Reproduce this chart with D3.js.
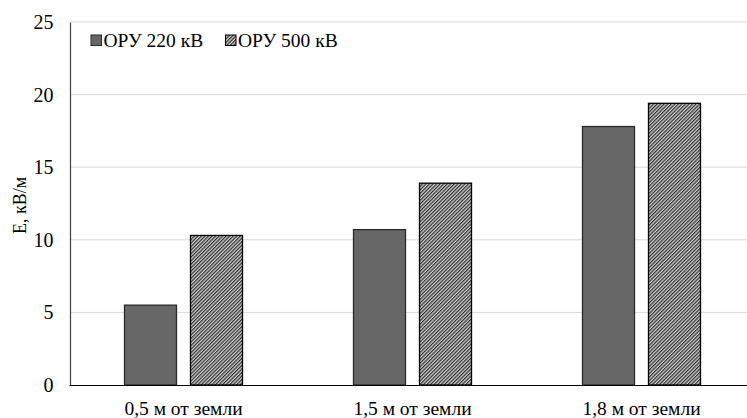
<!DOCTYPE html>
<html>
<head>
<meta charset="utf-8">
<script src="https://cdn.jsdelivr.net/npm/d3@7"></script>
<style>
  body { margin: 0; background: #fff; }
</style>
</head>
<body>
<svg id="chart" width="747" height="418"></svg>
<script>
const categories = ["0,5 м от земли", "1,5 м от земли", "1,8 м от земли"];
const seriesNames = ["ОРУ 220 кВ", "ОРУ 500 кВ"];
const ory220 = [5.5, 10.7, 17.8];
const ory500 = [10.3, 13.9, 19.4];
const yTicks = [0, 5, 10, 15, 20, 25];

const rows = categories.map((c, i) => ({ cat: c, vals: [ory220[i], ory500[i]] }));

const serif = "Liberation Serif, DejaVu Serif, serif";
const svg = d3.select("#chart");
const plotTop = 22, plotBottom = 385, plotLeft = 70;

// hatch pattern for the 500 kV series
const defs = svg.append("defs");
const pat = defs.append("pattern")
  .attr("id", "hatch")
  .attr("patternUnits", "userSpaceOnUse")
  .attr("width", 2.5)
  .attr("height", 2.5)
  .attr("patternTransform", "rotate(45)");
pat.append("rect").attr("width", 2.5).attr("height", 2.5).attr("fill", "#d0d0d0");
pat.append("rect")
  .attr("x", 0).attr("y", 0).attr("width", 1.2).attr("height", 2.5)
  .attr("fill", "#2e2e2e");

const x = d3.scaleBand()
  .domain(categories)
  .range([69, 756]);

const x1 = d3.scaleBand()
  .domain(seriesNames)
  .range([0, x.bandwidth()])
  .paddingInner(0.212)
  .paddingOuter(0.841);

const y = d3.scaleLinear()
  .domain([0, 25])
  .range([plotBottom, plotTop]);

// gridlines
svg.append("g")
  .selectAll("line")
  .data(yTicks.filter(d => d > 0))
  .enter()
  .append("line")
  .attr("x1", plotLeft).attr("x2", 747)
  .attr("y1", d => y(d)).attr("y2", d => y(d))
  .attr("stroke", "#d9d9d9")
  .attr("stroke-width", 1);

// bars
const fills = ["#676767", "url(#hatch)"];
const strokes = ["#2a2a2a", "#000"];
svg.append("g")
  .selectAll("g")
  .data(rows)
  .enter()
  .append("g")
  .attr("transform", d => "translate(" + x(d.cat) + ",0)")
  .selectAll("rect")
  .data(d => d.vals.map((v, i) => ({ key: seriesNames[i], v: v, i: i })))
  .enter()
  .append("rect")
  .attr("x", d => x1(d.key))
  .attr("width", x1.bandwidth())
  .attr("y", d => y(d.v))
  .attr("height", d => y(0) - y(d.v))
  .attr("fill", d => fills[d.i])
  .attr("stroke", d => strokes[d.i])
  .attr("stroke-width", 1.3);

// Y axis
const yAxis = svg.append("g")
  .attr("transform", "translate(" + plotLeft + ",0)")
  .call(d3.axisLeft(y).tickValues(yTicks).tickSize(0).tickPadding(16.5));
yAxis.select(".domain").attr("stroke", "#404040").attr("stroke-width", 1.2);
yAxis.selectAll("text").style("font-family", serif).style("font-size", "20px");

// X axis
const xAxis = svg.append("g")
  .attr("transform", "translate(0," + plotBottom + ")")
  .call(d3.axisBottom(x).tickSize(0).tickPadding(16));
xAxis.select(".domain").attr("stroke", "#000").attr("stroke-width", 1.2);
xAxis.selectAll("text").style("font-family", serif).style("font-size", "19.5px");

// Y axis title
svg.append("text")
  .attr("transform", "translate(26," + ((plotTop + plotBottom) / 2 + 2) + ") rotate(-90)")
  .attr("text-anchor", "middle")
  .style("font-family", serif)
  .style("font-size", "18px")
  .text("E, кВ/м");

// legend
const legendX = [91, 225.5];
const legend = svg.append("g")
  .selectAll("g")
  .data(seriesNames)
  .enter()
  .append("g")
  .attr("transform", (d, i) => "translate(" + legendX[i] + ",35)");
legend.append("rect")
  .attr("width", 10.5).attr("height", 10.5)
  .attr("fill", (d, i) => fills[i])
  .attr("stroke", (d, i) => strokes[i])
  .attr("stroke-width", 1);
legend.append("text")
  .attr("x", 12.5).attr("y", 12)
  .style("font-family", serif)
  .style("font-size", "19.5px")
  .text(d => d);
</script>
</body>
</html>
